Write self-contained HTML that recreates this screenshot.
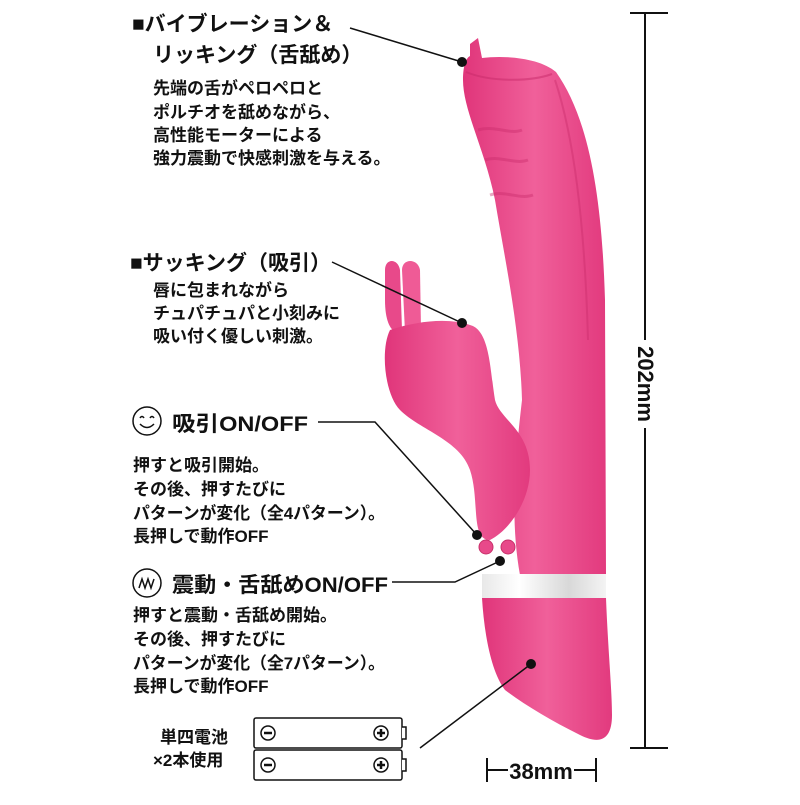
<!DOCTYPE html>
<html><head><meta charset="utf-8"><style>
html,body{margin:0;padding:0;background:#fff}
svg text{font-family:"Liberation Sans","Noto Sans CJK JP",sans-serif;font-weight:bold;fill:#111}
</style></head><body>
<svg width="800" height="800" viewBox="0 0 800 800" xmlns="http://www.w3.org/2000/svg">
<defs>
<linearGradient id="pk" x1="0" x2="1" y1="0" y2="0">
<stop offset="0" stop-color="#e0357a"/><stop offset="0.5" stop-color="#f0609a"/><stop offset="1" stop-color="#e23a7e"/>
</linearGradient>
<linearGradient id="band" x1="0" x2="1">
<stop offset="0" stop-color="#e8e8e8"/><stop offset="0.3" stop-color="#fff"/><stop offset="0.7" stop-color="#d8d8d8"/><stop offset="1" stop-color="#f4f4f4"/>
</linearGradient>
</defs>
<!-- shaft -->
<path d="M470,44 L478,38 L482,58 C505,55 540,58 556,72 C590,120 602,200 605,300 L606,575 L520,575 C510,520 515,460 522,400 C520,330 505,260 495,200 C485,150 463,110 463,80 C463,66 466,58 470,56 Z" fill="url(#pk)"/>
<path d="M466,72 C490,82 530,82 552,74" stroke="#c82a6a" stroke-width="2" fill="none" opacity="0.5"/>
<path d="M555,80 C575,140 585,230 588,340" stroke="#c82a6a" stroke-width="2" fill="none" opacity="0.4"/>
<g stroke="#c82a6a" stroke-width="3" fill="none" opacity="0.4">
<path d="M478,130 C495,125 510,135 522,130"/><path d="M485,160 C500,155 515,165 528,160"/><path d="M490,195 C505,190 520,200 533,195"/>
</g>
<!-- rabbit -->
<path d="M385,270 C385,258 398,258 400,270 L402,330 L396,332 C390,330 385,320 385,300 Z" fill="#e8498a"/>
<path d="M402,270 C402,258 418,258 420,270 L421,330 L405,332 Z" fill="#ef5b96"/>
<path d="M390,330 C420,320 450,318 470,325 C490,330 490,370 495,400 C500,420 530,430 530,470 C530,500 510,530 490,540 C470,540 480,500 470,470 C460,440 420,430 400,410 C385,395 380,350 390,330 Z" fill="url(#pk)"/>
<circle cx="486" cy="547" r="7" fill="#e8498a" stroke="#c8306a"/><circle cx="508" cy="547" r="7" fill="#e8498a" stroke="#c8306a"/>
<!-- band -->
<rect x="482" y="574" width="124" height="24" fill="url(#band)"/>
<!-- handle -->
<path d="M482,598 L606,598 C608,650 612,690 612,715 C612,740 600,745 580,735 C550,720 525,705 505,690 C490,670 484,630 482,598 Z" fill="url(#pk)"/>
<!-- dimension -->
<g stroke="#111" stroke-width="2" fill="none">
<line x1="630" y1="13" x2="668" y2="13"/><line x1="630" y1="748" x2="668" y2="748"/>
<line x1="645" y1="13" x2="645" y2="340"/><line x1="645" y1="428" x2="645" y2="748"/>
<line x1="487" y1="758" x2="487" y2="782"/><line x1="596" y1="758" x2="596" y2="782"/>
<line x1="487" y1="770" x2="508" y2="770"/><line x1="574" y1="770" x2="596" y2="770"/>
</g>
<text x="645" y="384" font-size="22" text-anchor="middle" transform="rotate(90 645 384)" dy="7">202mm</text>
<text x="541" y="779" font-size="22" text-anchor="middle">38mm</text>
<!-- leaders -->
<g stroke="#111" stroke-width="1.5" fill="none">
<line x1="350" y1="28" x2="462" y2="62"/>
<line x1="332" y1="262" x2="462" y2="323"/>
<polyline points="318,422 375,422 477,535"/>
<polyline points="392,582 455,582 500,561"/>
<line x1="420" y1="748" x2="531" y2="664"/>
</g>
<g fill="#111"><circle cx="462" cy="62" r="5"/><circle cx="462" cy="323" r="5"/><circle cx="477" cy="535" r="5"/><circle cx="500" cy="561" r="5"/><circle cx="531" cy="664" r="5"/></g>
<!-- texts -->
<g font-size="21">
<text x="132" y="31">■バイブレーション＆</text>
<text x="153" y="62">リッキング（舌舐め）</text>
<text x="130" y="270">■サッキング（吸引）</text>
<text x="172" y="431" textLength="136" lengthAdjust="spacingAndGlyphs">吸引ON/OFF</text>
<text x="172" y="592" textLength="216" lengthAdjust="spacingAndGlyphs">震動・舌舐めON/OFF</text>
</g>
<g font-size="17">
<text x="153" y="94">先端の舌がペロペロと</text>
<text x="153" y="118">ポルチオを舐めながら、</text>
<text x="153" y="141">高性能モーターによる</text>
<text x="153" y="164">強力震動で快感刺激を与える。</text>
<text x="153" y="296">唇に包まれながら</text>
<text x="153" y="319">チュパチュパと小刻みに</text>
<text x="153" y="342">吸い付く優しい刺激。</text>
<text x="133" y="471">押すと吸引開始。</text>
<text x="133" y="495">その後、押すたびに</text>
<text x="133" y="519" textLength="252" lengthAdjust="spacingAndGlyphs">パターンが変化（全4パターン）。</text>
<text x="133" y="542">長押しで動作OFF</text>
<text x="133" y="621">押すと震動・舌舐め開始。</text>
<text x="133" y="645">その後、押すたびに</text>
<text x="133" y="669" textLength="252" lengthAdjust="spacingAndGlyphs">パターンが変化（全7パターン）。</text>
<text x="133" y="692">長押しで動作OFF</text>
<text x="160" y="743">単四電池</text>
<text x="153" y="766">×2本使用</text>
</g>
<circle cx="147" cy="421" r="14" fill="none" stroke="#111" stroke-width="1.5"/>
<path d="M140,418 q2,-3 4,0 M150,418 q2,-3 4,0 M140,424 q7,7 14,0" stroke="#111" stroke-width="1.5" fill="none"/>
<circle cx="147" cy="583" r="14" fill="none" stroke="#111" stroke-width="1.5"/>
<path d="M139,588 l3,-9 l3,9 l3,-9 l3,9 l3,-9" stroke="#111" stroke-width="1.5" fill="none"/>
<!-- batteries -->
<g stroke="#111" stroke-width="1.5" fill="#fff">
<rect x="254" y="718" width="148" height="30" rx="2"/><rect x="254" y="750" width="148" height="30" rx="2"/>
<path d="M402,727 h4 v12 h-4 M402,759 h4 v12 h-4"/>
<circle cx="268" cy="733" r="7"/><circle cx="381" cy="733" r="7"/>
<circle cx="268" cy="765" r="7"/><circle cx="381" cy="765" r="7"/>
</g>
<g stroke="#111" stroke-width="2.5">
<line x1="264" y1="733" x2="272" y2="733"/><line x1="264" y1="765" x2="272" y2="765"/>
<line x1="377" y1="733" x2="385" y2="733"/><line x1="381" y1="729" x2="381" y2="737"/>
<line x1="377" y1="765" x2="385" y2="765"/><line x1="381" y1="761" x2="381" y2="769"/>
</g>
</svg>
</body></html>
